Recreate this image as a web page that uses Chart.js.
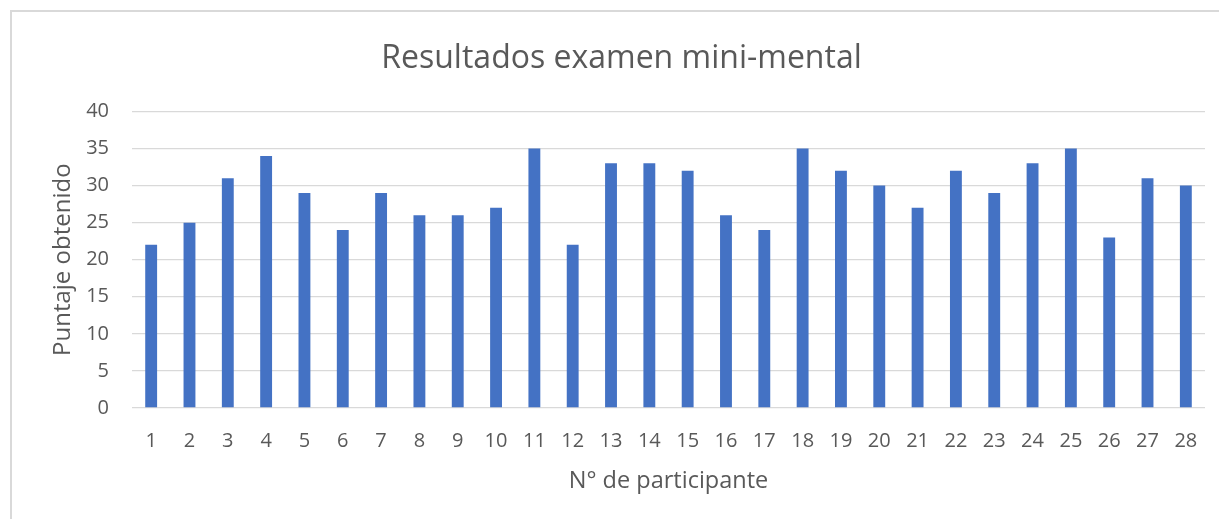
<!DOCTYPE html>
<html lang="es">
<head>
  <meta charset="UTF-8">
  <title>Resultados examen mini-mental</title>
  <script src="https://cdn.jsdelivr.net/npm/chart.js"></script>
  <style>
    body {
      margin: 0;
      padding: 0;
      background: #ffffff;
      overflow: hidden;
    }

    .chart-box {
      position: absolute;
      left: 10px;
      top: 10px;
      width: 1215px;
      height: 515px;
      box-sizing: border-box;
      border: 2px solid #d9d9d9;
      background: #ffffff;
    }
  </style>
</head>
<body>
  <div class="chart-box">
    <canvas id="mmseChart" width="1211" height="511"></canvas>
  </div>

  <script>
    const participants = ['1', '2', '3', '4', '5', '6', '7', '8', '9', '10', '11', '12', '13', '14',
      '15', '16', '17', '18', '19', '20', '21', '22', '23', '24', '25', '26', '27', '28'];
    const scores = [22, 25, 31, 34, 29, 24, 29, 26, 26, 27, 35, 22, 33, 33,
      32, 26, 24, 35, 32, 30, 27, 32, 29, 33, 35, 23, 31, 30];
    const yTicks = [0, 5, 10, 15, 20, 25, 30, 35, 40];

    const textColor = '#595959';
    const fontFamily = "'Open Sans', sans-serif";

    new Chart(document.getElementById('mmseChart'), {
      type: 'bar',
      data: {
        labels: participants,
        datasets: [{
          label: 'Puntaje',
          data: scores,
          backgroundColor: '#4472C4',
          borderWidth: 0,
          categoryPercentage: 1,
          barPercentage: 0.31
        }]
      },
      options: {
        responsive: false,
        animation: false,
        layout: {
          padding: { left: 26, right: 18, top: 0, bottom: 0 }
        },
        plugins: {
          legend: { display: false },
          tooltip: { enabled: false },
          title: {
            display: true,
            text: 'Resultados examen mini-mental',
            color: textColor,
            font: { family: fontFamily, size: 32, weight: 'normal' },
            padding: { top: 28, bottom: 33 }
          }
        },
        scales: {
          x: {
            grid: { display: false },
            border: { display: false },
            ticks: {
              color: textColor,
              font: { family: fontFamily, size: 20 },
              padding: 13,
              maxRotation: 0,
              autoSkip: false
            },
            title: {
              display: true,
              text: 'N° de participante',
              color: textColor,
              font: { family: fontFamily, size: 23.5 },
              padding: { top: 10, bottom: 28 }
            },
            afterFit: function (scale) { scale.height = 115; }
          },
          y: {
            min: 0,
            max: 40,
            afterBuildTicks: function (scale) {
              scale.ticks = yTicks.map(v => ({ value: v }));
            },
            grid: { color: '#d9d9d9', lineWidth: 1.3, drawTicks: false },
            border: { display: false },
            ticks: {
              color: textColor,
              font: { family: fontFamily, size: 20 },
              padding: 23
            },
            title: {
              display: true,
              text: 'Puntaje obtenido',
              color: textColor,
              font: { family: fontFamily, size: 24 },
              padding: { top: 11, bottom: 0 }
            },
            afterFit: function (scale) { scale.width = 94; }
          }
        }
      }
    });
  </script>
</body>
</html>
